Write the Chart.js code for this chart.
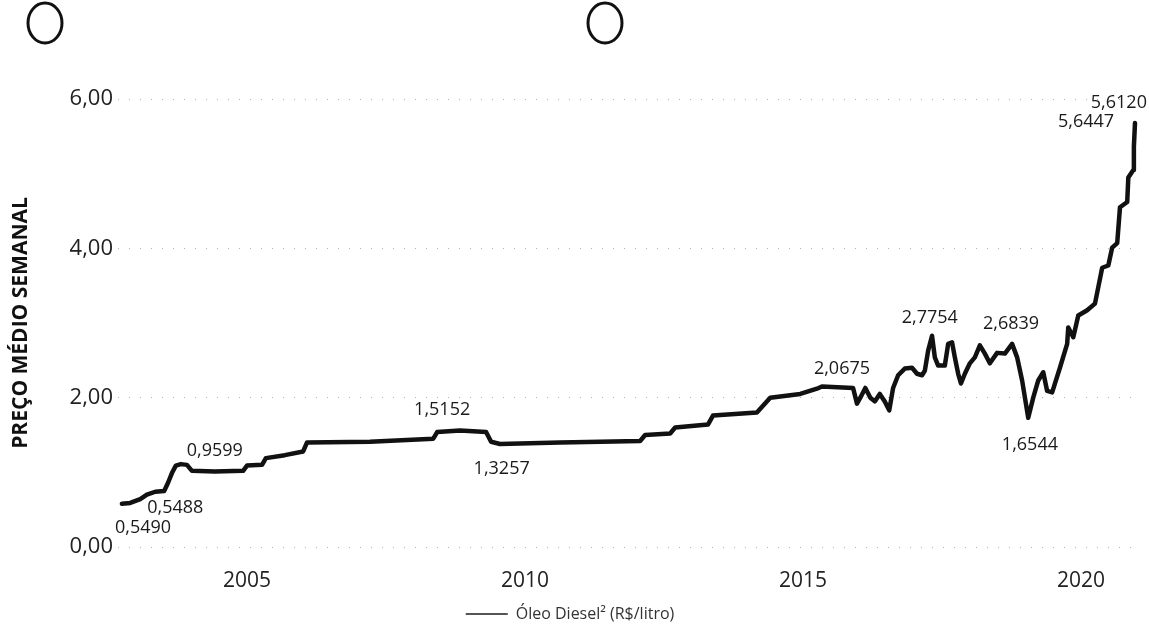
<!DOCTYPE html>
<html lang="pt">
<head>
  <meta charset="UTF-8">
  <title>Preço médio semanal - Óleo Diesel</title>
  <style>
    html, body { margin: 0; padding: 0; background: #fff; }
    #wrap { width: 1149px; height: 632px; position: relative; }
  </style>
</head>
<body>
  <div id="wrap"><canvas id="chart"></canvas></div>

  <script src="https://cdn.jsdelivr.net/npm/chart.js"></script>
  <script>
    // weekly average price (year as decimal, R$/litro)
    const years = [
      2002.75, 2002.90, 2003.08, 2003.20, 2003.35, 2003.51, 2003.58, 2003.65, 2003.72, 2003.81,
      2003.92, 2004.01, 2004.42, 2004.93, 2005.00, 2005.27, 2005.34, 2005.68, 2006.01, 2006.08,
      2007.21, 2008.35, 2008.42, 2008.83, 2009.30, 2009.39, 2009.55, 2010.63, 2012.07, 2012.16,
      2012.61, 2012.70, 2013.29, 2013.38, 2014.17, 2014.41, 2014.95, 2015.25, 2015.34, 2015.90,
      2015.97, 2016.03, 2016.12, 2016.21, 2016.29, 2016.38, 2016.47, 2016.55, 2016.62, 2016.71,
      2016.83, 2016.96, 2017.05, 2017.14, 2017.19, 2017.25, 2017.32, 2017.37, 2017.43, 2017.55,
      2017.61, 2017.68, 2017.73, 2017.79, 2017.84, 2017.91, 2018.00, 2018.09, 2018.18, 2018.27,
      2018.36, 2018.49, 2018.63, 2018.76, 2018.85, 2018.94, 2019.05, 2019.14, 2019.23, 2019.32,
      2019.39, 2019.48, 2019.62, 2019.75, 2019.77, 2019.86, 2019.95, 2020.11, 2020.25, 2020.31,
      2020.38, 2020.49, 2020.56, 2020.65, 2020.70, 2020.83, 2020.85, 2020.94, 2020.95, 2020.97
    ];
    const prices = [
      0.58, 0.59, 0.64, 0.70, 0.74, 0.75, 0.86, 0.99, 1.09, 1.11,
      1.10, 1.02, 1.01, 1.02, 1.09, 1.10, 1.19, 1.23, 1.28, 1.40,
      1.41, 1.45, 1.54, 1.56, 1.54, 1.41, 1.38, 1.40, 1.42, 1.50,
      1.52, 1.60, 1.64, 1.76, 1.80, 2.00, 2.05, 2.12, 2.15, 2.13,
      1.92, 2.00, 2.13, 2.00, 1.95, 2.05, 1.95, 1.83, 2.13, 2.30,
      2.39, 2.40, 2.32, 2.30, 2.36, 2.63, 2.83, 2.54, 2.43, 2.43,
      2.72, 2.74, 2.54, 2.32, 2.19, 2.32, 2.46, 2.54, 2.70, 2.59,
      2.46, 2.60, 2.59, 2.72, 2.54, 2.23, 1.73, 2.00, 2.23, 2.34,
      2.09, 2.07, 2.40, 2.72, 2.94, 2.81, 3.10, 3.17, 3.26, 3.48,
      3.74, 3.77, 4.01, 4.07, 4.55, 4.62, 4.95, 5.05, 5.36, 5.68
    ];

    const yearTicks = [2005, 2010, 2015, 2020];
    const priceTicks = [0, 2, 4, 6];

    // value annotations and where they sit (data coordinates)
    const noteText  = ['0,5490', '0,5488', '0,9599', '1,5152', '1,3257', '2,0675', '2,7754', '2,6839', '1,6544', '5,6447', '5,6120'];
    const noteYear  = [2003.13, 2003.71, 2004.42, 2008.51, 2009.58, 2015.70, 2017.28, 2018.74, 2019.08, 2020.09, 2020.68];
    const notePrice = [0.26, 0.52, 1.29, 1.83, 1.05, 2.38, 3.07, 2.99, 1.37, 5.70, 5.95];

    const seriesName = 'Óleo Diesel² (R$/litro)';
    const axisTitle = 'PREÇO MÉDIO SEMANAL';

    const fontFamily = '"Open Sans", "Noto Sans", sans-serif';

    const points = years.map((y, i) => ({ x: y, y: prices[i] }));

    const extras = {
      id: 'extras',
      afterDatasetsDraw(chart) {
        const ctx = chart.ctx;
        const xs = chart.scales.x, ys = chart.scales.y;
        ctx.save();
        ctx.fillStyle = '#1a1a1a';
        ctx.font = '18px ' + fontFamily;
        ctx.textAlign = 'center';
        ctx.textBaseline = 'middle';
        noteText.forEach((t, i) => {
          ctx.fillText(t, xs.getPixelForValue(noteYear[i]), ys.getPixelForValue(notePrice[i]));
        });
        ctx.restore();
      },
      afterDraw(chart) {
        // the two round marks at the top of the page
        const ctx = chart.ctx;
        ctx.save();
        ctx.strokeStyle = '#111';
        ctx.lineWidth = 3;
        [45, 605].forEach(cx => {
          ctx.beginPath();
          ctx.ellipse(cx, 23, 17, 20, 0, 0, Math.PI * 2);
          ctx.stroke();
        });
        ctx.restore();
      }
    };

    new Chart(document.getElementById('chart'), {
      type: 'line',
      data: {
        datasets: [{
          label: seriesName,
          data: points,
          borderColor: '#111',
          backgroundColor: '#111',
          borderWidth: 4.5,
          pointRadius: 0,
          tension: 0,
          borderJoinStyle: 'round',
          borderCapStyle: 'round',
          clip: false
        }]
      },
      options: {
        responsive: true,
        maintainAspectRatio: false,
        animation: false,
        layout: { padding: { top: 99, right: 9, bottom: 0, left: 0 } },
        plugins: {
          tooltip: { enabled: false },
          legend: {
            position: 'bottom',
            labels: {
              usePointStyle: true,
              pointStyle: 'line',
              pointStyleWidth: 42,
              color: '#333',
              font: { family: fontFamily, size: 16 },
              padding: 10,
              generateLabels: chart => chart.data.datasets.map((ds, i) => ({
                text: ds.label,
                datasetIndex: i,
                pointStyle: 'line',
                strokeStyle: '#555',
                fillStyle: '#555',
                lineWidth: 2,
                fontColor: '#333',
                hidden: false
              }))
            }
          }
        },
        scales: {
          x: {
            type: 'linear',
            min: 2002.68,
            max: 2021.06,
            afterBuildTicks: s => { s.ticks = yearTicks.map(v => ({ value: v })); },
            afterFit: s => { s.height = 49; },
            grid: { display: false, drawTicks: false },
            border: { display: false },
            ticks: {
              padding: 21,
              color: '#222',
              font: { family: fontFamily, size: 21 },
              callback: v => String(v)
            }
          },
          y: {
            min: 0,
            max: 6,
            afterBuildTicks: s => { s.ticks = priceTicks.map(v => ({ value: v })); },
            afterFit: s => { s.width = 118; },
            grid: {
              color: 'rgba(0,0,0,0.3)',
              lineWidth: 1,
              drawTicks: false
            },
            border: { display: false, dash: [1, 10] },
            ticks: {
              padding: 5,
              color: '#222',
              font: { family: fontFamily, size: 22 },
              callback: v => v.toFixed(2).replace('.', ',')
            },
            title: {
              display: true,
              text: axisTitle,
              color: '#111',
              font: { family: fontFamily, size: 21, weight: 'bold' },
              padding: { top: 8, bottom: 0 }
            }
          }
        }
      },
      plugins: [extras]
    });
  </script>
</body>
</html>
